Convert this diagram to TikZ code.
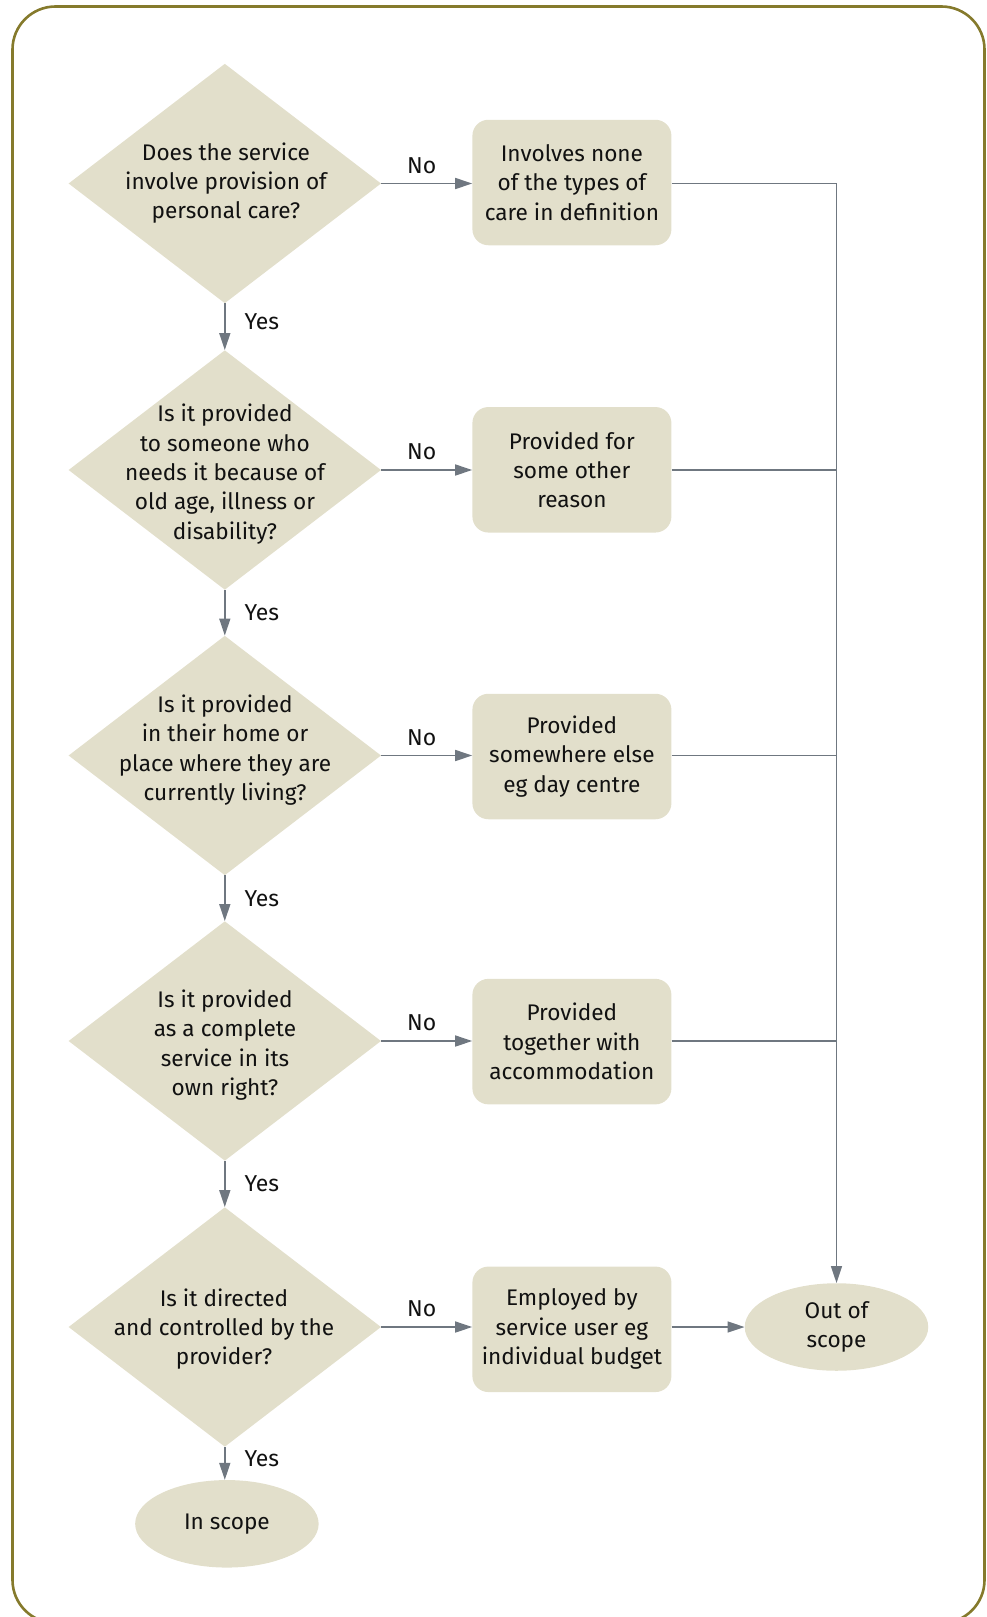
\documentclass[tikz,border=0pt]{standalone}
\usepackage{fontspec}
\setmainfont{Fira Sans}
\usetikzlibrary{shapes.geometric,arrows.meta}
\definecolor{frame}{HTML}{857A2C}
\definecolor{boxfill}{HTML}{E2DFCB}
\definecolor{linkgray}{HTML}{6F7780}
\definecolor{ink}{HTML}{111111}
\tikzset{
  dia/.style={diamond, fill=boxfill, draw=none, inner sep=0pt,
    minimum width=312.5pt, minimum height=239.5pt},
  qtext/.style={align=center, text=ink, font=\fontsize{22.6}{29.4}\selectfont, inner sep=0pt},
  outbox/.style={rounded corners=16pt, fill=boxfill, draw=none,
    minimum width=199pt, minimum height=125.5pt, align=center, text=ink,
    font=\fontsize{22.6}{29.4}\selectfont, inner sep=0pt},
  endell/.style={ellipse, fill=boxfill, draw=none, minimum width=183.5pt,
    minimum height=87.5pt, inner sep=0pt, align=center, text=ink,
    font=\fontsize{22.6}{29.4}\selectfont},
  arr/.style={draw=linkgray, line width=1.5pt, -{Triangle[length=17pt,width=11pt]}},
  ln/.style={draw=linkgray, line width=1.5pt},
  lab/.style={text=ink, font=\fontsize{23}{26}\selectfont, inner sep=0pt},
  nolab/.style={lab, midway, above=9pt, xshift=-5pt},
  yeslab/.style={lab, right=19pt},
}
\begin{document}
\begin{tikzpicture}[x=1pt,y=-1pt]
\useasboundingbox (0,0) rectangle (987,1617);
% outer frame, its bottom edge runs past the page
\draw[frame, line width=2.6pt, rounded corners=43pt] (12.5,6.5) rectangle (984.5,1623);

% decision diamonds
\node[dia] (q1) at (224.8,183.5) {};
\node[dia] (q2) at (224.8,470) {};
\node[dia] (q3) at (224.8,755.5) {};
\node[dia] (q4) at (224.8,1041) {};
\node[dia] (q5) at (224.8,1327) {};
\node[qtext] (q1t) at (226,183) {Does the service\\involve provision of\\personal care?};
\node[qtext] (q2t) at (225,474) {Is it provided\\to someone who\\needs it because of\\old age, illness or\\disability?};
\node[qtext] (q3t) at (225,750) {Is it provided\\in their home or\\place where they are\\currently living?};
\node[qtext] (q4t) at (225,1045) {Is it provided\\as a complete\\service in its\\own right?};
\node[qtext] (q5t) at (224,1329) {Is it directed\\and controlled by the\\provider?};

% outcome boxes
\node[outbox] (b1) at (571.9,182.5) {Involves none\\of the types of\\care in definition};
\node[outbox] (b2) at (571.9,469.8) {Provided for\\some other\\reason};
\node[outbox] (b3) at (571.9,756.5) {Provided\\somewhere else\\eg day centre};
\node[outbox] (b4) at (571.9,1041.6) {Provided\\together with\\accommodation};
\node[outbox] (b5) at (571.9,1329.3) {Employed by\\service user eg\\individual budget};

% end points
\node[endell] (out) at (836.5,1327) {Out of\\scope};
\node[endell] (in) at (226.9,1523.8) {In scope};

% "No" branches
\draw[arr] (q1.east) -- (b1.west |- q1.east) node[nolab] {No};
\draw[arr] (q2.east) -- (b2.west |- q2.east) node[nolab] {No};
\draw[arr] (q3.east) -- (b3.west |- q3.east) node[nolab] {No};
\draw[arr] (q4.east) -- (b4.west |- q4.east) node[nolab] {No};
\draw[arr] (q5.east) -- (b5.west |- q5.east) node[nolab] {No};

% "Yes" branches
\draw[arr] (q1.south) -- (q2.north) node[yeslab, pos=0.4] {Yes};
\draw[arr] (q2.south) -- (q3.north) node[yeslab, pos=0.5] {Yes};
\draw[arr] (q3.south) -- (q4.north) node[yeslab, pos=0.5] {Yes};
\draw[arr] (q4.south) -- (q5.north) node[yeslab, pos=0.5] {Yes};
\draw[arr] (q5.south) -- (q5.south |- in.north) node[yeslab, pos=0.35] {Yes};

% collecting rail to "Out of scope"
\draw[ln] (b1.east |- q1.east) -- (q1.east -| out.north);
\draw[ln] (b2.east |- q2.east) -- (q2.east -| out.north);
\draw[ln] (b3.east |- q3.east) -- (q3.east -| out.north);
\draw[ln] (b4.east |- q4.east) -- (q4.east -| out.north);
\draw[arr] (q1.east -| out.north) -- (out.north);
\draw[arr] (b5.east |- q5.east) -- (out.west);
\end{tikzpicture}
\end{document}
